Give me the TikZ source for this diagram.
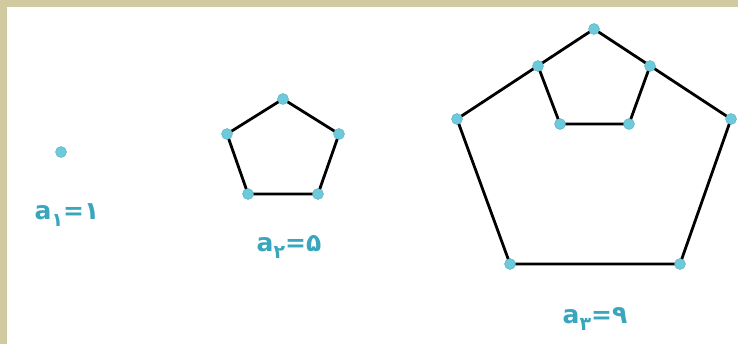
\documentclass[tikz,border=0pt]{standalone}
\usepackage{fontspec}
\newfontfamily\labfont{DejaVu Sans}
\definecolor{frame}{HTML}{D1CAA0}
\definecolor{dotc}{HTML}{6CCADC}
\definecolor{labc}{HTML}{3AA6BE}
\tikzset{
  pt/.style={circle,fill=dotc,draw=dotc!85!black,line width=0.4pt,inner sep=0pt,minimum size=11pt},
  edge/.style={line width=2.8pt,black},
  lab/.style={text=labc,font=\labfont\bfseries\fontsize{25}{25}\selectfont,inner sep=0pt}
}
\newcommand{\subd}[1]{\raisebox{-7pt}{\fontsize{19}{19}\selectfont #1}}
\newcommand{\lbl}[2]{\scalebox{1.0}[1]{a\subd{#1}=#2}}
\begin{document}
\begin{tikzpicture}[x=1pt,y=-1pt]
\useasboundingbox (0,0) rectangle (738,344);
\fill[white] (0,0) rectangle (738,344);
\fill[frame] (0,0) rectangle (738,7);
\fill[frame] (0,0) rectangle (7,344);
% figure 1
\node[pt] (p1) at (61,152) {};
\node[lab] (l1) at (67,215) {\lbl{۱}{۱}};
% figure 2
\coordinate (q1) at (283,99);
\coordinate (q2) at (339,134);
\coordinate (q3) at (318,194);
\coordinate (q4) at (248,194);
\coordinate (q5) at (227,134);
\draw[edge] (q1) -- (q2) -- (q3) -- (q4) -- (q5) -- cycle;
\foreach \c in {q1,q2,q3,q4,q5} \node[pt] at (\c) {};
\node[lab] (l2) at (289,247) {\lbl{۲}{۵}};
% figure 3
\coordinate (r1) at (594,29);
\coordinate (r2) at (731,119);
\coordinate (r3) at (680,264);
\coordinate (r4) at (510,264);
\coordinate (r5) at (457,119);
\coordinate (s2) at (650,66);
\coordinate (s3) at (629,124);
\coordinate (s4) at (560,124);
\coordinate (s5) at (538,66);
\draw[edge] (r1) -- (r2) -- (r3) -- (r4) -- (r5) -- cycle;
\draw[edge] (s2) -- (s3) -- (s4) -- (s5);
\foreach \c in {r1,r2,r3,r4,r5,s2,s3,s4,s5} \node[pt] at (\c) {};
\node[lab] (l3) at (595,319) {\lbl{۳}{۹}};
\end{tikzpicture}
\end{document}
